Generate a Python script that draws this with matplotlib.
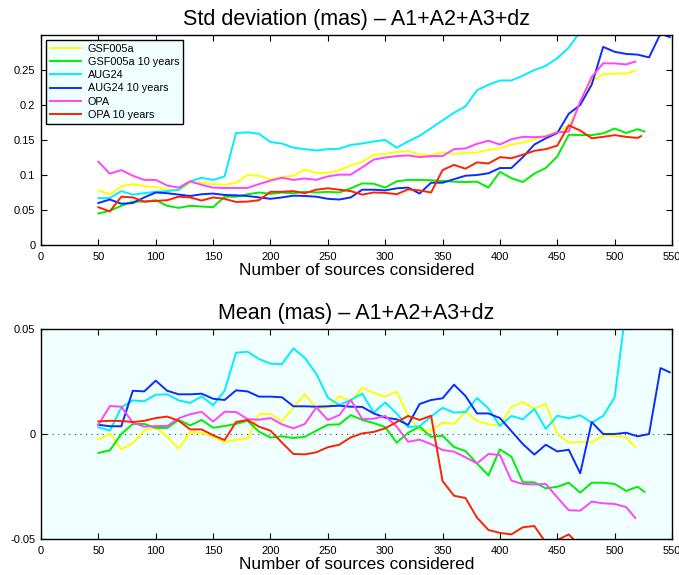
import numpy as np
import matplotlib
matplotlib.use('Agg')
import matplotlib.pyplot as plt

plt.rcParams['font.family'] = ['Liberation Sans', 'DejaVu Sans']

# ── Data ─────────────────────────────────────────────────────────────────
base_x = list(range(50, 520, 10))          # 50 .. 510

x_gsf = base_x + [518]
x_gsf10 = base_x + [520, 526]
x_aug = base_x + [518]
x_aug10 = list(range(50, 550, 10)) + [548]
x_opa = base_x + [518]
x_opa10 = base_x + [520, 523]

std_gsf = [0.078, 0.0725, 0.084, 0.087, 0.084, 0.083, 0.079, 0.078, 0.089, 0.089,
           0.087, 0.086, 0.089, 0.100, 0.099, 0.094, 0.097, 0.099, 0.108, 0.103,
           0.103, 0.107, 0.1135, 0.119, 0.129, 0.130, 0.133, 0.134, 0.129, 0.128,
           0.1325, 0.130, 0.132, 0.132, 0.136, 0.138, 0.1435, 0.1465, 0.151, 0.156,
           0.162, 0.170, 0.203, 0.234, 0.244, 0.245, 0.245, 0.249]
std_gsf10 = [0.045, 0.049, 0.056, 0.062, 0.062, 0.064, 0.056, 0.053, 0.056, 0.055,
             0.054, 0.069, 0.069, 0.0725, 0.075, 0.073, 0.075, 0.074, 0.076, 0.075,
             0.076, 0.075, 0.081, 0.088, 0.0875, 0.082, 0.091, 0.093, 0.093, 0.0925,
             0.0915, 0.0905, 0.090, 0.0905, 0.082, 0.1045, 0.0955, 0.090, 0.102, 0.110,
             0.1265, 0.1575, 0.157, 0.157, 0.1595, 0.1665, 0.160, 0.1655, 0.162]
std_aug = [0.067, 0.067, 0.077, 0.072, 0.074, 0.076, 0.077, 0.079, 0.091, 0.096,
           0.093, 0.098, 0.160, 0.161, 0.159, 0.147, 0.145, 0.139, 0.137, 0.135,
           0.137, 0.1375, 0.143, 0.145, 0.148, 0.150, 0.139, 0.148, 0.156, 0.167,
           0.178, 0.189, 0.198, 0.221, 0.229, 0.235, 0.235, 0.242, 0.250, 0.256,
           0.267, 0.282, 0.305, 0.33, 0.36, 0.39, 0.42, 0.44]
std_aug10 = [0.060, 0.065, 0.059, 0.060, 0.068, 0.075, 0.074, 0.072, 0.070, 0.0725,
             0.0735, 0.0715, 0.071, 0.070, 0.068, 0.066, 0.068, 0.0705, 0.070, 0.069,
             0.066, 0.065, 0.068, 0.079, 0.079, 0.078, 0.081, 0.082, 0.0735, 0.089,
             0.089, 0.094, 0.099, 0.100, 0.1025, 0.110, 0.110, 0.1255, 0.1435, 0.1525,
             0.160, 0.1875, 0.200, 0.229, 0.283, 0.276, 0.273, 0.272, 0.268, 0.302,
             0.297]
std_opa = [0.119, 0.102, 0.107, 0.099, 0.093, 0.093, 0.085, 0.082, 0.091, 0.086,
           0.082, 0.0815, 0.0815, 0.0815, 0.087, 0.092, 0.096, 0.093, 0.095, 0.093,
           0.098, 0.1005, 0.1005, 0.111, 0.122, 0.125, 0.127, 0.128, 0.1255, 0.127,
           0.127, 0.137, 0.138, 0.1445, 0.149, 0.1435, 0.151, 0.1545, 0.154, 0.155,
           0.161, 0.162, 0.205, 0.240, 0.2595, 0.2595, 0.258, 0.262]
std_opa10 = [0.054, 0.048, 0.069, 0.068, 0.062, 0.063, 0.064, 0.069, 0.068, 0.0635,
             0.068, 0.066, 0.0615, 0.062, 0.064, 0.076, 0.076, 0.077, 0.074, 0.079,
             0.081, 0.079, 0.077, 0.072, 0.075, 0.0745, 0.0725, 0.0795, 0.078, 0.075,
             0.107, 0.1145, 0.109, 0.118, 0.1165, 0.1255, 0.124, 0.129, 0.1345, 0.137,
             0.142, 0.171, 0.1635, 0.1525, 0.1545, 0.157, 0.1545, 0.153, 0.1555]

mean_gsf = [-0.0027, 0.0003, -0.0073, -0.0044, 0.0017, 0.0032, -0.0013, -0.0070, 0.001, 0.0006,
            -0.0013, -0.0038, -0.0027, -0.0022, 0.0095, 0.0095, 0.0059, 0.0127, 0.0189, 0.0122,
            0.0127, 0.018, 0.0155, 0.0221, 0.0195, 0.0178, 0.0202, 0.0085, 0.0019, 0.0016,
            0.0054, 0.0049, 0.0105, 0.0062, 0.0046, 0.0043, 0.013, 0.0152, 0.0119, 0.0144,
            0.0, -0.0041, -0.0038, -0.004, -0.0008, -0.0008, -0.0017, -0.0062]
mean_gsf10 = [-0.009, -0.0078, 0.0, 0.0048, 0.0048, 0.0029, 0.0029, 0.0067, 0.0041, 0.0067,
              0.003, 0.0038, 0.0048, 0.0063, 0.0011, -0.0017, -0.0011, -0.0019, -0.0013, 0.0016,
              0.0044, 0.0046, 0.009, 0.0067, 0.0052, 0.0033, -0.0041, 0.0006, 0.0035, -0.0014,
              -0.0008, -0.0062, -0.0081, -0.014, -0.0197, -0.0073, -0.0108, -0.023, -0.023, -0.0259,
              -0.0251, -0.0232, -0.0279, -0.0232, -0.0232, -0.0238, -0.0271, -0.0251, -0.0276]
mean_aug = [0.0032, 0.0016, 0.0127, 0.016, 0.0156, 0.0187, 0.0189, 0.016, 0.0148, 0.0179,
            0.0137, 0.0206, 0.0387, 0.0392, 0.0357, 0.0335, 0.0333, 0.0408, 0.0362, 0.0286,
            0.0173, 0.0138, 0.0162, 0.0192, 0.0102, 0.015, 0.0098, 0.0033, 0.0037, 0.0083,
            0.0125, 0.0102, 0.0105, 0.0171, 0.0122, 0.0038, 0.0086, 0.007, 0.0119, 0.0024,
            0.0087, 0.0075, 0.0089, 0.0054, 0.0086, 0.0175, 0.060, 0.075]
mean_aug10 = [0.0044, 0.0037, 0.0037, 0.0206, 0.0203, 0.0254, 0.0206, 0.0189, 0.0189, 0.0192,
              0.0168, 0.0162, 0.0208, 0.0203, 0.0178, 0.0178, 0.0175, 0.0132, 0.0132, 0.013,
              0.0132, 0.0135, 0.013, 0.0129, 0.0098, 0.0078, 0.007, 0.0043, 0.0143, 0.0162,
              0.017, 0.0235, 0.0181, 0.0098, 0.0098, 0.0076, 0.0014, -0.0048, -0.0098, -0.0051,
              -0.0083, -0.0075, -0.0187, 0.0057, 0.0, 0.0, 0.0006, -0.0011, 0.0, 0.0314,
              0.0294]
mean_opa = [0.0044, 0.0133, 0.013, 0.0054, 0.0035, 0.0038, 0.0038, 0.0075, 0.0094, 0.0106,
            0.0059, 0.0106, 0.0105, 0.0071, 0.0068, 0.0076, 0.0046, 0.0027, 0.0048, 0.0127,
            0.0067, 0.009, 0.0162, 0.0071, 0.0073, 0.0086, 0.0035, -0.0037, -0.0027, -0.0048,
            -0.0076, -0.0084, -0.0111, -0.014, -0.0095, -0.01, -0.0222, -0.0238, -0.024, -0.0238,
            -0.0302, -0.0363, -0.0365, -0.0322, -0.033, -0.0333, -0.0348, -0.04]
mean_opa10 = [0.006, 0.0063, 0.0062, 0.0057, 0.0063, 0.0076, 0.0083, 0.0063, 0.0022, 0.0022,
              -0.0006, -0.0029, 0.0057, 0.0067, 0.0035, 0.0016, -0.0041, -0.0095, -0.0097, -0.0087,
              -0.0063, -0.0051, -0.0016, 0.0003, 0.001, 0.0027, 0.0057, 0.0086, 0.0067, 0.0087,
              -0.0224, -0.0294, -0.0305, -0.0398, -0.0457, -0.0471, -0.0478, -0.0444, -0.0438, -0.0517,
              -0.0505, -0.0478, -0.0535, -0.058, -0.060, -0.060, -0.061, -0.062, -0.063]

labels = ['GSF005a', 'GSF005a 10 years', 'AUG24', 'AUG24 10 years', 'OPA', 'OPA 10 years']
colors = ['#ffff00', '#00ee00', '#00eeff', '#0a2cff', '#ff44ff', '#ff2200']
xs = [x_gsf, x_gsf10, x_aug, x_aug10, x_opa, x_opa10]
stds = [std_gsf, std_gsf10, std_aug, std_aug10, std_opa, std_opa10]
means = [mean_gsf, mean_gsf10, mean_aug, mean_aug10, mean_opa, mean_opa10]

xticks = list(range(0, 551, 50))

# ── Figure ───────────────────────────────────────────────────────────────
fig = plt.figure(figsize=(6.79, 5.75), dpi=100)
ax1 = fig.add_axes([0.0604, 0.5739, 0.9293, 0.3652])
ax2 = fig.add_axes([0.0604, 0.0626, 0.9293, 0.3652])


def style(ax):
    ax.set_xlim(0, 550)
    ax.set_xticks(xticks)
    ax.set_xticklabels([str(t) for t in xticks])
    ax.tick_params(direction='in', top=True, right=True, length=4,
                   width=0.8, labelsize=8)
    ax.tick_params(axis='x', pad=5)
    ax.tick_params(axis='y', pad=4)
    for s in ax.spines.values():
        s.set_linewidth(1.0)
    ax.set_xlabel('Number of sources considered', fontsize=12.4, labelpad=0.5)


# top panel: std deviation
for x, y, c, lab in zip(xs, stds, colors, labels):
    ax1.plot(x, y, color=c, lw=1.4, label=lab)
style(ax1)
ax1.set_ylim(0, 0.3)
ax1.set_yticks([0, 0.05, 0.1, 0.15, 0.2, 0.25])
ax1.set_yticklabels(['0', '0.05', '0.1', '0.15', '0.2', '0.25'])
ax1.set_title('Std deviation (mas) \u2013 A1+A2+A3+dz', fontsize=15.5, pad=7)
leg = ax1.legend(loc='upper left', fontsize=7.8, frameon=True, fancybox=False,
                 handlelength=2.9, labelspacing=0.3, borderpad=0.35,
                 borderaxespad=0.45, handletextpad=0.6)
leg.get_frame().set_facecolor('#f0ffff')
leg.get_frame().set_edgecolor('black')
leg.get_frame().set_linewidth(1.0)
leg.get_frame().set_alpha(1)

# bottom panel: mean
ax2.set_facecolor('#f0ffff')
ax2.axhline(0, color='#444444', lw=0.8, ls=(0, (1, 4)))
for x, y, c in zip(xs, means, colors):
    ax2.plot(x, y, color=c, lw=1.4)
style(ax2)
ax2.set_ylim(-0.05, 0.05)
ax2.set_yticks([-0.05, 0, 0.05])
ax2.set_yticklabels(['-0.05', '0', '0.05'])
ax2.set_title('Mean (mas) \u2013 A1+A2+A3+dz', fontsize=15.5, pad=7)

fig.savefig('out.png', dpi=100)
plt.close(fig)
